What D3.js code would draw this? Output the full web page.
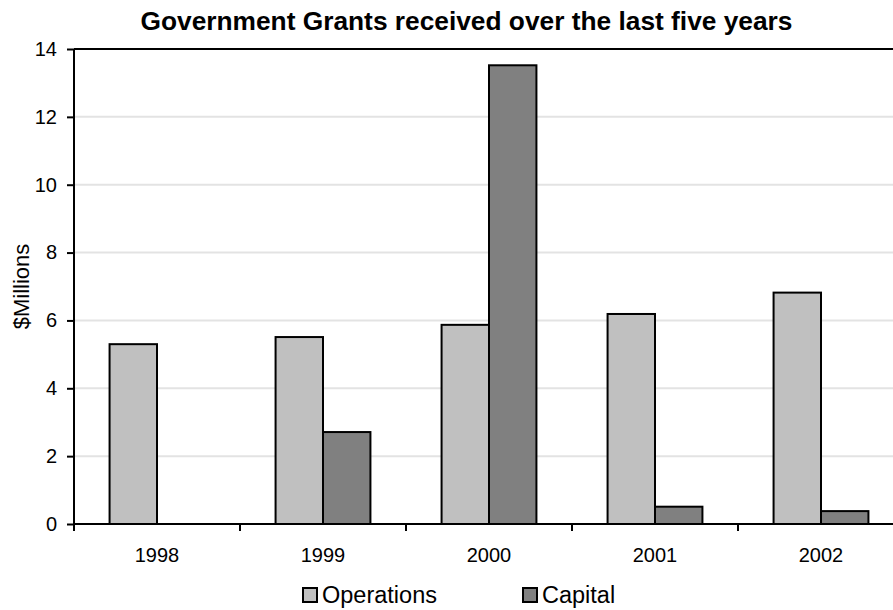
<!DOCTYPE html>
<html>
<head>
<meta charset="utf-8">
<script src="https://cdn.jsdelivr.net/npm/d3@7"></script>
<style>
  html, body { margin: 0; padding: 0; background: #fff; }
  svg { display: block; font-family: "Liberation Sans", Arial, sans-serif; }
</style>
</head>
<body>
<svg id="chart" width="893" height="610"></svg>
<script>
// Government grants by year, $ millions
const years = ["1998", "1999", "2000", "2001", "2002"];
const operations = [5.30, 5.51, 5.87, 6.19, 6.82];
const capital = [0, 2.71, 13.52, 0.51, 0.38];
const seriesNames = ["Operations", "Capital"];
const seriesColors = ["#c0c0c0", "#808080"];
const yTicks = [0, 2, 4, 6, 8, 10, 12, 14];

const svg = d3.select("#chart");
const margin = { left: 74, top: 49, right: -11, bottom: 86 };
const W = 893, H = 610;
const x0 = margin.left, x1 = W - margin.right;
const yTop = margin.top, yBottom = H - margin.bottom;
const FONT = "Liberation Sans, Arial, sans-serif";

const x = d3.scaleBand().domain(years).range([x0, x1]).paddingInner(0).paddingOuter(0);
const inner = d3.scaleBand().domain(seriesNames).range([0, x.bandwidth()]).paddingInner(0).paddingOuter(0.75);
const y = d3.scaleLinear().domain([0, 14]).range([yBottom, yTop]);

// horizontal gridlines
svg.append("g")
  .selectAll("line")
  .data(yTicks.filter(t => t > 0 && t < 14))
  .join("line")
  .attr("x1", x0).attr("x2", x1)
  .attr("y1", d => y(d)).attr("y2", d => y(d))
  .attr("stroke", "#e3e3e3").attr("stroke-width", 2);

// top frame line
svg.append("line")
  .attr("x1", x0).attr("x2", x1)
  .attr("y1", y(14)).attr("y2", y(14))
  .attr("stroke", "#000").attr("stroke-width", 2);

// bars
const rows = years.map((yr, i) => ({ year: yr, values: [operations[i], capital[i]] }));
const groups = svg.append("g").selectAll("g")
  .data(rows)
  .join("g")
  .attr("transform", d => `translate(${x(d.year)},0)`);

groups.selectAll("rect")
  .data(d => d.values.map((v, j) => ({ name: seriesNames[j], value: v, color: seriesColors[j] })).filter(d => d.value > 0))
  .join("rect")
  .attr("x", d => inner(d.name))
  .attr("width", inner.bandwidth())
  .attr("y", d => y(d.value))
  .attr("height", d => y(0) - y(d.value))
  .attr("fill", d => d.color)
  .attr("stroke", "#000")
  .attr("stroke-width", 2);

// y axis
const yAxis = svg.append("g")
  .attr("transform", `translate(${x0},0)`)
  .call(d3.axisLeft(y).tickValues(yTicks).tickSize(7).tickPadding(10).tickFormat(d3.format("d")));
yAxis.attr("font-size", null).attr("font-family", null);
yAxis.select(".domain").attr("stroke", "#000").attr("stroke-width", 2).attr("d", `M0,${yTop}V${yBottom}`);
yAxis.selectAll(".tick line").attr("stroke", "#000").attr("stroke-width", 2);
yAxis.selectAll(".tick text")
  .style("font-size", "20px").style("font-family", FONT).attr("fill", "#000");

// x axis
const xAxis = svg.append("g")
  .attr("transform", `translate(0,${yBottom})`)
  .call(d3.axisBottom(x).tickSize(0).tickPadding(0));
xAxis.attr("font-size", null).attr("font-family", null);
xAxis.select(".domain").attr("stroke", "#000").attr("stroke-width", 2).attr("d", `M${x0},0H${x1}`);
xAxis.selectAll(".tick text")
  .attr("dy", null).attr("y", 38)
  .style("font-size", "20px").style("font-family", FONT).attr("fill", "#000");

// category boundary ticks below the axis
svg.append("g").selectAll("line")
  .data(years)
  .join("line")
  .attr("x1", d => x(d)).attr("x2", d => x(d))
  .attr("y1", yBottom).attr("y2", yBottom + 7)
  .attr("stroke", "#000").attr("stroke-width", 2);

// title
svg.append("text")
  .attr("x", 466.5).attr("y", 30)
  .attr("text-anchor", "middle")
  .style("font-size", "26.3px").attr("font-weight", "bold")
  .text("Government Grants received over the last five years");

// y label
svg.append("text")
  .attr("transform", `translate(29,${(yTop + yBottom) / 2}) rotate(-90)`)
  .attr("text-anchor", "middle")
  .style("font-size", "22px")
  .text("$Millions");

// legend
const legendX = [303, 523];
const legend = svg.append("g").selectAll("g")
  .data(seriesNames)
  .join("g")
  .attr("transform", (d, i) => `translate(${legendX[i]},588)`);
legend.append("rect")
  .attr("x", 0).attr("y", 0).attr("width", 14).attr("height", 14)
  .attr("fill", (d, i) => seriesColors[i])
  .attr("stroke", "#000").attr("stroke-width", 2);
legend.append("text")
  .attr("x", 19).attr("y", 15)
  .style("font-size", "23.5px")
  .text(d => d);
</script>
</body>
</html>
